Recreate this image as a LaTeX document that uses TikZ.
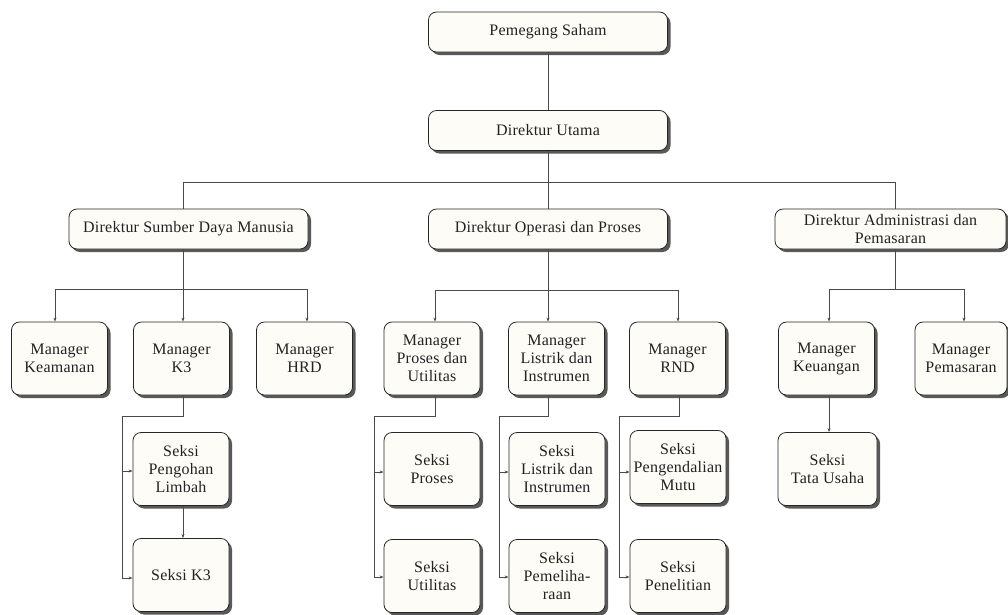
\documentclass[tikz,border=0pt]{standalone}
\usepackage{fontspec}
\setmainfont{Liberation Serif}[LetterSpace=1.5]
\usetikzlibrary{shadows,arrows.meta}
\definecolor{boxfill}{HTML}{FDFCF7}
\definecolor{linec}{HTML}{4A4A4A}
\definecolor{txt}{HTML}{222222}
\begin{document}
\begin{tikzpicture}[x=1pt,y=-1pt,
  orgbox/.style={draw=black!85,line width=0.8pt,fill=boxfill,rounded corners=8pt,
    drop shadow={shadow xshift=3pt,shadow yshift=-3pt,fill=black!65,opacity=1},
    align=center,inner sep=0pt,text=txt,
    font=\fontsize{16}{18}\selectfont},
  dirbox/.style={orgbox,minimum width=239pt,minimum height=40pt},
  mgrbox/.style={orgbox,minimum width=96pt,minimum height=73pt},
  conn/.style={draw=linec,line width=0.8pt},
  arr/.style={conn,-{Stealth[length=4pt,width=3pt]}}]
\useasboundingbox (0,0) rectangle (1008,614);
% top
\node[dirbox] (ps) at (548,32) {Pemegang Saham};
\node[dirbox] (du) at (548,130.5) {Direktur Utama};
% directors
\node[dirbox] (dsdm) at (188.5,229) {Direktur Sumber Daya Manusia};
\node[dirbox] (dop) at (548,229) {Direktur Operasi dan Proses};
\node[dirbox,minimum width=231pt] (dap) at (890.5,229) {Direktur Administrasi dan\\Pemasaran};
% managers
\node[mgrbox] (mkea) at (59.5,358.5) {Manager\\Keamanan};
\node[mgrbox] (mk3) at (181.5,358.5) {Manager\\K3};
\node[mgrbox] (mhrd) at (304.5,358.5) {Manager\\HRD};
\node[mgrbox] (mpu) at (432,358.5) {Manager\\Proses dan\\Utilitas};
\node[mgrbox] (mli) at (556.5,358.5) {Manager\\Listrik dan\\Instrumen};
\node[mgrbox] (mrnd) at (677.5,358.5) {Manager\\RND};
\node[mgrbox] (mkeu) at (826.5,358.5) {Manager\\Keuangan};
\node[mgrbox,minimum width=92pt] (mpem) at (961,358.5) {Manager\\Pemasaran};
% seksi
\node[mgrbox] (spl) at (181,469) {Seksi\\Pengohan\\Limbah};
\node[mgrbox] (sk3) at (181,575) {Seksi K3};
\node[mgrbox] (spr) at (432,469) {Seksi\\Proses};
\node[mgrbox] (sut) at (432,576) {Seksi\\Utilitas};
\node[mgrbox] (sli) at (557,469) {Seksi\\Listrik dan\\Instrumen};
\node[mgrbox] (spm) at (557,576) {Seksi\\Pemeliha-\\raan};
\node[mgrbox] (sped) at (678,467) {Seksi\\Pengendalian\\Mutu};
\node[mgrbox] (spen) at (678,576) {Seksi\\Penelitian};
\node[mgrbox,minimum width=99pt] (stu) at (827.5,469) {Seksi\\Tata Usaha};
% top connectors
\coordinate (bl) at (183,182);
\coordinate (bm) at (548,182);
\coordinate (br) at (895,182);
\draw[conn] (ps.south) -- (du.north);
\draw[conn] (du.south) -- (bm);
\draw[conn] (bl) -- (br);
\draw[conn] (bl) -- (bl |- dsdm.north);
\draw[conn] (bm) -- (dop.north);
\draw[conn] (br) -- (br |- dap.north);
% SDM
\coordinate (s1) at (55,289);
\coordinate (s2) at (183,289);
\coordinate (s3) at (307,289);
\draw[conn] (s2 |- dsdm.south) -- (s2);
\draw[conn] (s1) -- (s3);
\draw[arr] (s1) -- (s1 |- mkea.north);
\draw[arr] (s2) -- (s2 |- mk3.north);
\draw[arr] (s3) -- (s3 |- mhrd.north);
% K3 seksi
\coordinate (k1) at (183,416);
\coordinate (k2) at (122,416);
\coordinate (k3) at (122,471);
\coordinate (k4) at (122,578);
\draw[conn] (k1 |- mk3.south) -- (k1) -- (k2) -- (k4);
\draw[arr] (k3) -- (k3 -| spl.west);
\draw[arr] (k4) -- (k4 -| sk3.west);
\draw[arr] (k1 |- spl.south) -- (k1 |- sk3.north);
% Operasi
\coordinate (o1) at (435,290);
\coordinate (o2) at (548,290);
\coordinate (o3) at (678,290);
\draw[conn] (dop.south) -- (o2);
\draw[conn] (o1) -- (o3);
\draw[arr] (o1) -- (o1 |- mpu.north);
\draw[arr] (o2) -- (o2 |- mli.north);
\draw[arr] (o3) -- (o3 |- mrnd.north);
% Proses & Utilitas seksi
\coordinate (p1) at (435,416);
\coordinate (p2) at (374,416);
\coordinate (p3) at (374,472);
\coordinate (p4) at (374,577);
\draw[conn] (p1 |- mpu.south) -- (p1) -- (p2) -- (p4);
\draw[arr] (p3) -- (p3 -| spr.west);
\draw[arr] (p4) -- (p4 -| sut.west);
% Listrik seksi
\coordinate (l1) at (548,416);
\coordinate (l2) at (499,416);
\coordinate (l3) at (499,472);
\coordinate (l4) at (499,577);
\draw[conn] (l1 |- mli.south) -- (l1) -- (l2) -- (l4);
\draw[arr] (l3) -- (l3 -| sli.west);
\draw[arr] (l4) -- (l4 -| spm.west);
% RND seksi
\coordinate (r1) at (679,416);
\coordinate (r2) at (619,416);
\coordinate (r3) at (619,472);
\coordinate (r4) at (619,577);
\draw[conn] (r1 |- mrnd.south) -- (r1) -- (r2) -- (r4);
\draw[arr] (r3) -- (r3 -| sped.west);
\draw[arr] (r4) -- (r4 -| spen.west);
% Administrasi
\coordinate (a1) at (829,289);
\coordinate (a2) at (895,289);
\coordinate (a3) at (964,289);
\draw[conn] (a2 |- dap.south) -- (a2);
\draw[conn] (a1) -- (a3);
\draw[arr] (a1) -- (a1 |- mkeu.north);
\draw[arr] (a3) -- (a3 |- mpem.north);
\draw[arr] (a1 |- mkeu.south) -- (a1 |- stu.north);
\end{tikzpicture}
\end{document}
